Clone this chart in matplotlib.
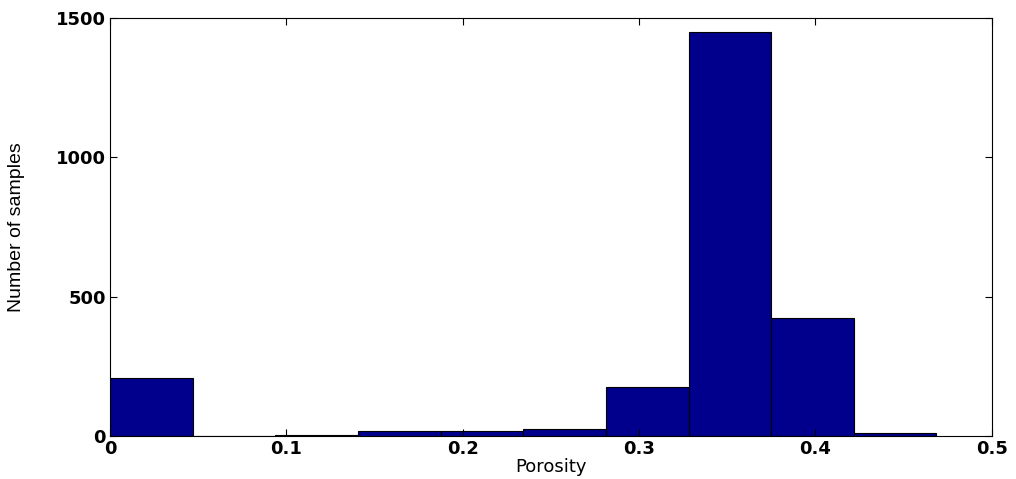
import matplotlib
matplotlib.use("Agg")
import matplotlib.pyplot as plt
import numpy as np

# Histogram of porosity (10 bins, MATLAB hist style)
bin_lo = 0.0
bin_hi = 0.4687
counts = [208, 0, 5, 17, 17, 25, 176, 1451, 423, 10]
xticks = [0, 0.1, 0.2, 0.3, 0.4, 0.5]
yticks = [0, 500, 1000, 1500]

edges = np.linspace(bin_lo, bin_hi, len(counts) + 1)
centers = (edges[:-1] + edges[1:]) / 2
width = edges[1] - edges[0]

fig = plt.figure(figsize=(10.16, 4.79), dpi=100)
ax = fig.add_axes([0.1083, 0.0898, 0.8677, 0.8726])
ax.bar(centers, counts, width=width, color="#00008c", edgecolor="black", linewidth=0.8)

ax.set_xlim(0, 0.5)
ax.set_ylim(0, 1500)
ax.set_xticks(xticks)
ax.set_xticklabels([f"{t:g}" for t in xticks])
ax.set_yticks(yticks)
ax.tick_params(direction="in", top=True, right=True, length=5, width=0.8,
               labelsize=13, pad=3)
for lab in ax.get_xticklabels() + ax.get_yticklabels():
    lab.set_family(["DejaVu Sans"])
    lab.set_fontweight("bold")

ax.set_xlabel("Porosity", fontsize=13, family=["DejaVu Sans"], labelpad=0)
ax.set_ylabel("Number of samples", fontsize=14,
              family=["Liberation Sans Narrow", "Liberation Sans", "DejaVu Sans"], labelpad=22)
for s in ax.spines.values():
    s.set_linewidth(0.8)

fig.savefig("out.png", dpi=100, facecolor="white")
